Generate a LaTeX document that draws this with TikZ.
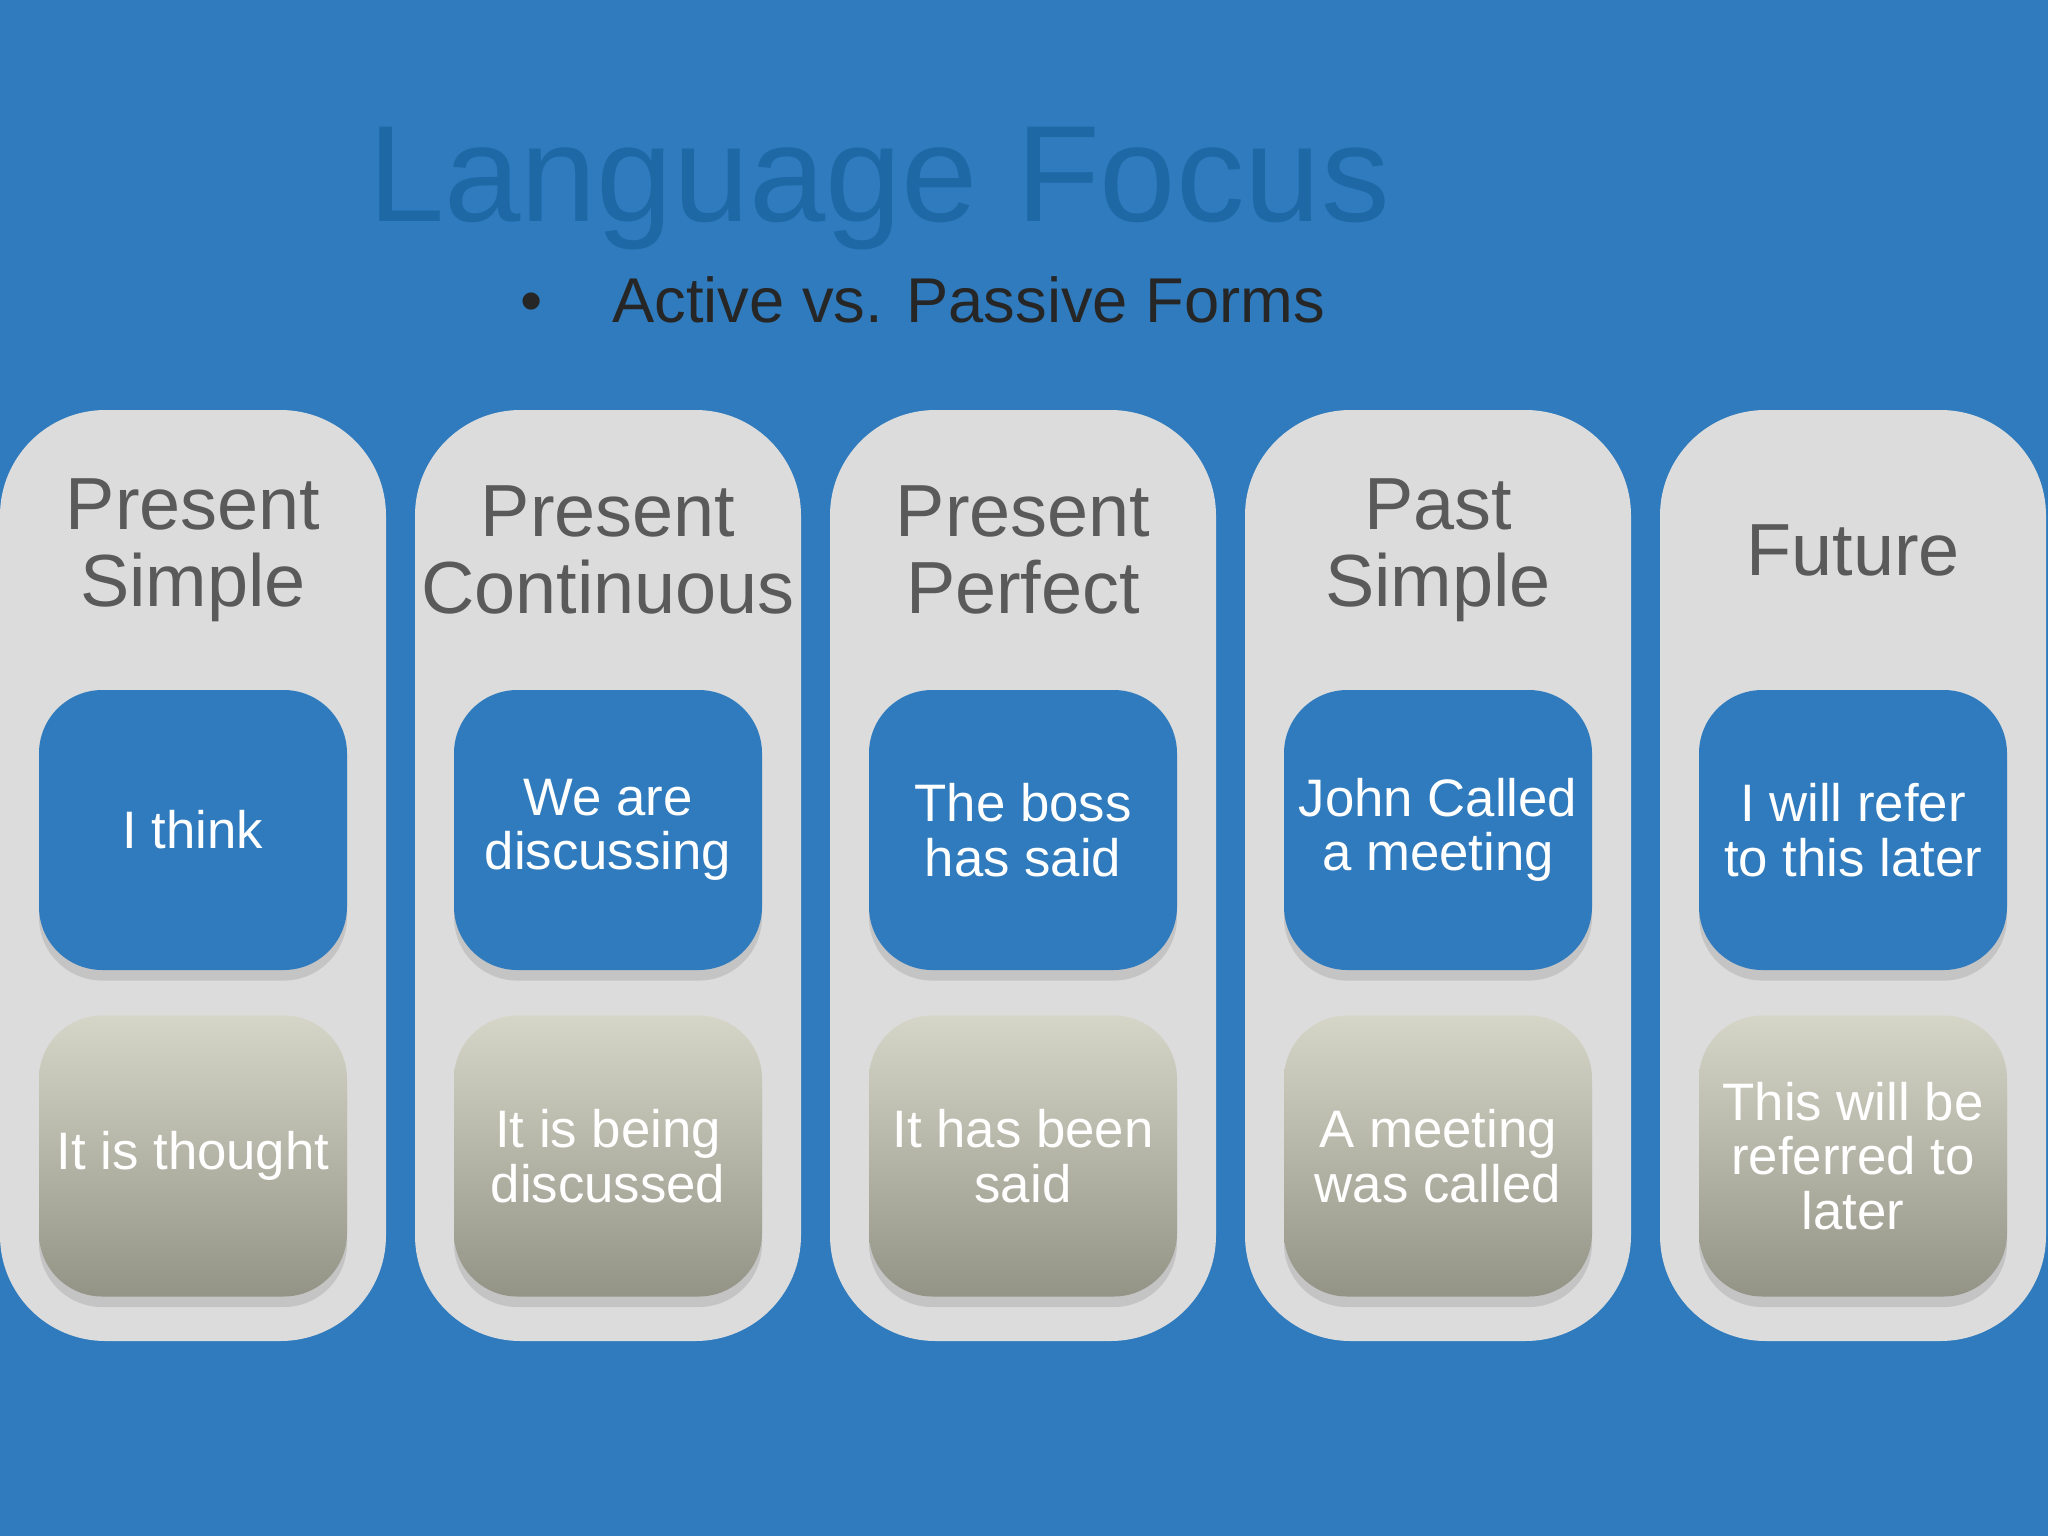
\documentclass[tikz,border=0pt]{standalone}
\usepackage{fontspec}
\setmainfont{Liberation Sans}
\usetikzlibrary{shadows}
\definecolor{bg}{HTML}{2F7BBD}
\definecolor{ttl}{HTML}{1E68A6}
\definecolor{colg}{HTML}{DCDCDC}
\definecolor{hdr}{HTML}{5A5A5A}
\definecolor{gtop}{HTML}{D6D6C8}
\definecolor{gbot}{HTML}{939386}
\tikzset{
 col/.style={draw=none,fill=colg,rounded corners=30,minimum width=386*0.01cm,minimum height=931*0.01cm},
 hdrtext/.style={text=hdr,align=center,font=\fontsize{21}{22}\selectfont},
 bluebox/.style={fill=bg,rounded corners=18,minimum width=308*0.01cm,minimum height=280*0.01cm,text=white,align=center,font=\fontsize{15}{15.5}\selectfont,drop shadow={opacity=0.25,shadow xshift=0pt,shadow yshift=-3pt}},
 graybox/.style={top color=gtop,bottom color=gbot,rounded corners=18,minimum width=308*0.01cm,minimum height=281*0.01cm,text=white,align=center,font=\fontsize{15}{15.5}\selectfont,drop shadow={opacity=0.25,shadow xshift=0pt,shadow yshift=-3pt}}
}
\begin{document}
\begin{tikzpicture}[x=0.01cm,y=-0.01cm]
\fill[bg] (0,0) rectangle (2048,1536);
\useasboundingbox (0,0) rectangle (2048,1536);
\node[text=ttl,font=\fontsize{39}{40}\selectfont] (title) at (879,189) {Language Focus};
\node[text=black!85,font=\fontsize{18}{20}\selectfont,anchor=west] (sub) at (508,300) {\textbullet\hspace{1.1em}Active vs. Passive Forms};
\foreach \i/\h/\a/\p in {0/{Present\\Simple}/{I think}/{It is thought},
 1/{Present\\Continuous}/{We are\\discussing}/{It is being\\discussed},
 2/{Present\\Perfect}/{The boss\\has said}/{It has been\\said},
 3/{Past\\Simple}/{John Called\\a meeting}/{A meeting\\was called},
 4/{Future}/{I will refer\\to this later}/{This will be\\referred to\\later}}{
 \node[col] (c\i) at (193+415*\i,875.5) {};
 \node[hdrtext] (h\i) at (193+415*\i,550) {\h};
 \node[bluebox] (a\i) at (193+415*\i,830) {\a};
 \node[graybox] (p\i) at (193+415*\i,1156) {\p};
}
\end{tikzpicture}
\end{document}
